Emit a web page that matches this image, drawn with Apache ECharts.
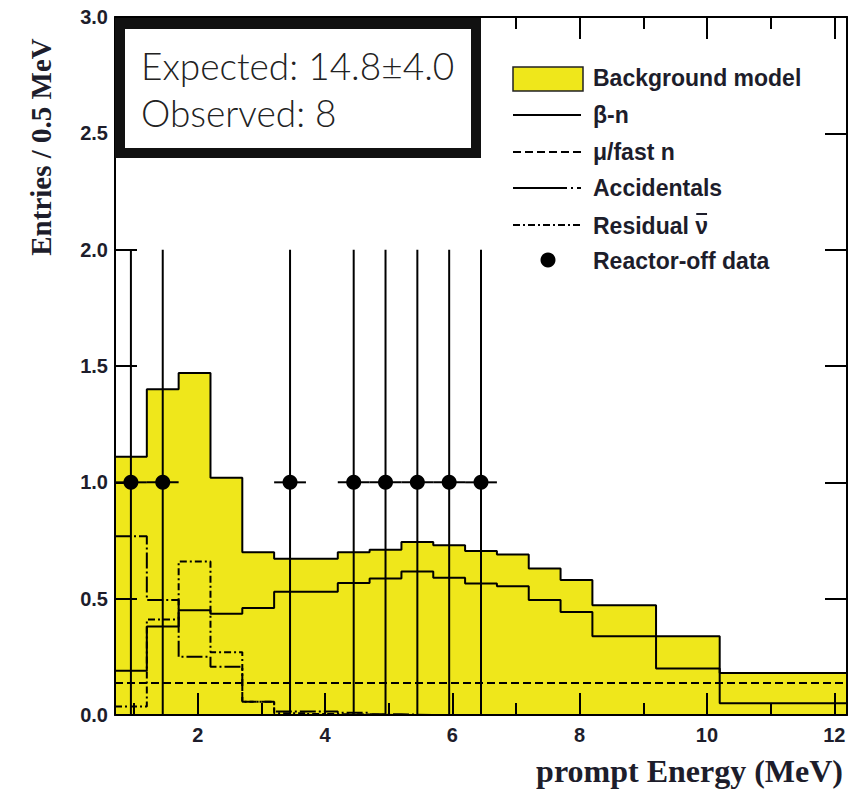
<!DOCTYPE html>
<html><head><meta charset="utf-8">
<script src="https://cdn.jsdelivr.net/npm/echarts@6/dist/echarts.min.js"></script>
<style>html,body{margin:0;padding:0;background:#fff}#c{width:861px;height:789px}</style>
</head><body><div id="c"></div>
<script>
// ---- data ----
const binEdges = [0.7,1.2,1.7,2.2,2.7,3.2,3.7,4.2,4.7,5.2,5.7,6.2,6.7,7.2,7.7,8.2,9.2,10.2,12.2];
const backgroundModel = [1.11,1.40,1.47,1.02,0.70,0.672,0.672,0.70,0.71,0.744,0.73,0.705,0.69,0.63,0.58,0.472,0.339,0.18];
const betaN = [0.19,0.38,0.45,0.435,0.46,0.53,0.53,0.567,0.587,0.617,0.59,0.565,0.553,0.494,0.443,0.339,0.20,0.05];
const muFastN = [0.137,0.137,0.137,0.137,0.137,0.137,0.137,0.137,0.137,0.137,0.137,0.137,0.137,0.137,0.137,0.137,0.137,0.137];
const accidentals = [0.768,0.494,0.25,0.207,0.057,0.015,0.015,0.01,0.003,0,0,0,0,0,0,0,0,0];
const residualNu = [0.036,0.41,0.66,0.27,0.057,0.008,0.004,0.002,0,0,0,0,0,0,0,0,0,0];
const dataEnergy = [0.95,1.45,3.45,4.45,4.95,5.45,5.95,6.45];
const dataCounts = [1,1,1,1,1,1,1,1];
const dataErrLow = [1,1,1,1,1,1,1,1];
const dataErrHigh = [1,1,1,1,1,1,1,1];
const dataHalfBin = [0.25,0.25,0.25,0.25,0.25,0.25,0.25,0.25];
const xMajorTicks = [2,4,6,8,10,12];
const xMinorTicks = [1,3,5,7,9,11];
const yMin = 0, yMax = 3, yStep = 0.5;
const xMin = 0.7, xMax = 12.2;

// ---- helpers ----
function steps(vals){
  const out = [];
  vals.forEach((v,i)=>{ out.push([binEdges[i], v]); out.push([binEdges[i+1], v]); });
  return out;
}
const ink = '#1d1d2b';
const yellow = '#efe71b';
const labelFont = {fontFamily:'Liberation Sans', fontWeight:'bold', fontSize:20, color:ink};
const legendFontSize = 23;
const legendFont = 'bold ' + legendFontSize + 'px "Liberation Sans"';

function xAx(pos, ticks, len, showLine, showLabel){
  return {
    type:'value', min:xMin, max:xMax, position:pos, z:10,
    axisLine:{show:showLine, onZero:false, lineStyle:{color:'#000', width:2}},
    axisTick:{show:true, inside:true, length:len, customValues:ticks, lineStyle:{color:'#000', width:2}},
    axisLabel: showLabel ? Object.assign({show:true, customValues:ticks, margin:10}, labelFont) : {show:false},
    splitLine:{show:false}
  };
}
function yAx(pos, showLabel){
  return {
    type:'value', min:yMin, max:yMax, interval:yStep, position:pos, z:10,
    axisLine:{show:true, onZero:false, lineStyle:{color:'#000', width:2}},
    axisTick:{show:true, inside:true, length:22, lineStyle:{color:'#000', width:2}},
    axisLabel: showLabel ? Object.assign({show:true, margin:7, formatter:v=>v.toFixed(1)}, labelFont) : {show:false},
    splitLine:{show:false}
  };
}
const lineSeries = (name, vals, dash) => ({
  name, type:'line', data:steps(vals), showSymbol:false, symbol:'none', z:4,
  lineStyle:{color:'#000', width:2, type:dash}, silent:true, animation:false
});

// measure position of the nu for the overbar in the legend
const mctx = document.createElement('canvas').getContext('2d');
mctx.font = legendFont;
const resPrefixW = mctx.measureText('Residual ').width;
const nuW = mctx.measureText('ν').width;
const legX = 593;

const legendRows = [
  {text:'Background model', y:78},
  {text:'β-n', y:115},
  {text:'μ/fast n', y:152},
  {text:'Accidentals', y:188},
  {text:'Residual ν', y:226},
  {text:'Reactor-off data', y:261}
];

const chart = echarts.init(document.getElementById('c'), null, {renderer:'svg'});
chart.setOption({
  animation:false,
  backgroundColor:'#fff',
  grid:{left:115, right:14, top:17, bottom:74},
  xAxis:[ xAx('bottom', xMajorTicks, 22, true, true), xAx('bottom', xMinorTicks, 12, false, false),
          xAx('top', xMajorTicks, 22, true, false), xAx('top', xMinorTicks, 12, false, false) ],
  yAxis:[ yAx('left', true), yAx('right', false) ],
  series:[
    { name:'Background model', type:'line', data:steps(backgroundModel), showSymbol:false, symbol:'none', z:2,
      itemStyle:{color:yellow}, lineStyle:{color:'#000', width:2}, areaStyle:{color:yellow, opacity:1} },
    lineSeries('μ/fast n', muFastN, [8,4]),
    lineSeries('Residual ν', residualNu, [7,3,2,3]),
    lineSeries('Accidentals', accidentals, [16,3,2,3]),
    lineSeries('β-n', betaN, 'solid'),
    { name:'errors', type:'custom', z:6,
      data: dataEnergy.map((e,i)=>[e, dataCounts[i], dataCounts[i]-dataErrLow[i], dataCounts[i]+dataErrHigh[i], e-dataHalfBin[i], e+dataHalfBin[i]]),
      renderItem:(params, api)=>{
        const x=api.value(0), y=api.value(1);
        const t=api.coord([x, api.value(3)]), b=api.coord([x, api.value(2)]);
        const l=api.coord([api.value(4), y]), r=api.coord([api.value(5), y]);
        const st={stroke:'#000', lineWidth:2};
        return {type:'group', children:[
          {type:'line', shape:{x1:t[0],y1:t[1],x2:b[0],y2:b[1]}, style:st},
          {type:'line', shape:{x1:l[0],y1:l[1],x2:r[0],y2:r[1]}, style:st}
        ]};
      }
    },
    { name:'Reactor-off data', type:'scatter', z:7, symbol:'circle', symbolSize:15,
      itemStyle:{color:'#000', opacity:1}, data: dataEnergy.map((e,i)=>[e, dataCounts[i]]) }
  ],
  graphic:[
    // axis titles
    { type:'text', x:41, y:147, rotation:Math.PI/2, z:20,
      style:{text:'Entries / 0.5 MeV', fontFamily:'Liberation Serif', fontWeight:'bold', fontSize:29, fill:ink, align:'center', verticalAlign:'middle'} },
    { type:'text', x:843, y:771, z:20,
      style:{text:'prompt Energy (MeV)', fontFamily:'Liberation Serif', fontWeight:'bold', fontSize:32, fill:ink, align:'right', verticalAlign:'middle'} },
    // annotation box
    { type:'rect', z:30, shape:{x:120, y:24, width:356, height:129}, style:{fill:'#fff', stroke:'#111', lineWidth:10} },
    { type:'rect', z:30, shape:{x:115, y:18, width:366, height:8}, style:{fill:'#111'} },
    { type:'text', z:31, x:141, y:65, style:{text:'Expected: 14.8±4.0', fontFamily:'Lato', fontWeight:300, fontSize:37, fill:'#222', verticalAlign:'middle'} },
    { type:'text', z:31, x:141, y:112, style:{text:'Observed: 8', fontFamily:'Lato', fontWeight:300, fontSize:37, fill:'#222', verticalAlign:'middle'} },
    // legend
    { type:'rect', z:20, shape:{x:513, y:67, width:70, height:24}, style:{fill:yellow, stroke:'#222', lineWidth:1.5} },
    { type:'line', z:20, shape:{x1:513, y1:115, x2:581, y2:115}, style:{stroke:'#000', lineWidth:2} },
    { type:'line', z:20, shape:{x1:513, y1:152, x2:581, y2:152}, style:{stroke:'#000', lineWidth:2, lineDash:[8,4]} },
    { type:'line', z:20, shape:{x1:513, y1:188, x2:581, y2:188}, style:{stroke:'#000', lineWidth:2, lineDash:[54,4,2,4]} },
    { type:'line', z:20, shape:{x1:513, y1:225, x2:581, y2:225}, style:{stroke:'#000', lineWidth:2, lineDash:[7,3,2,3]} },
    { type:'circle', z:20, shape:{cx:548, cy:260, r:7.5}, style:{fill:'#000'} },
    ...legendRows.map(r => ({ type:'text', z:20, x:legX, y:r.y,
      style:{text:r.text, fontFamily:'Liberation Sans', fontWeight:'bold', fontSize:legendFontSize, fill:ink, verticalAlign:'middle'} })),
    { type:'line', z:20, shape:{x1:legX+resPrefixW+1, y1:214, x2:legX+resPrefixW+nuW-1, y2:214}, style:{stroke:ink, lineWidth:2} }
  ]
});
</script></body></html>
